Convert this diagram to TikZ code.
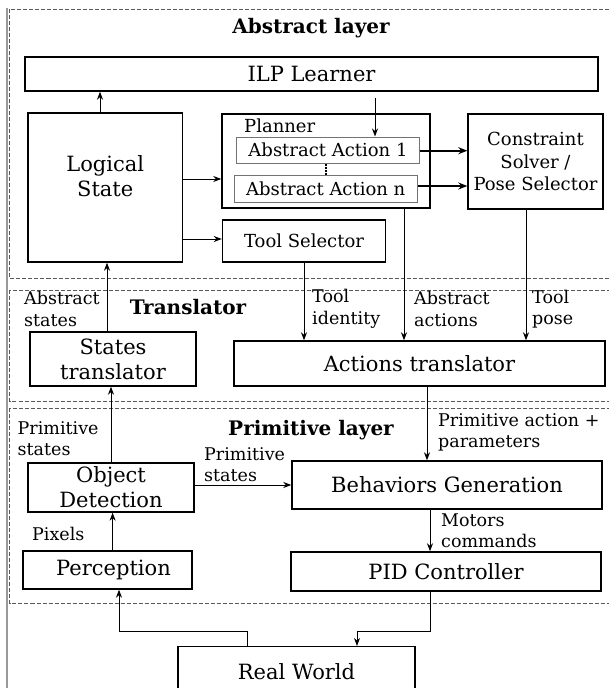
\documentclass[tikz,border=0pt]{standalone}
\usepackage{fontspec}
\setmainfont{DejaVu Serif}
\usetikzlibrary{arrows.meta,calc}
\begin{document}
\begin{tikzpicture}[x=1pt,y=-1pt,
  box/.style={draw=black,line width=1.4pt,inner sep=0pt,align=center,font=\fontsize{21}{25}\selectfont},
  sbox/.style={draw=black,line width=1.4pt,inner sep=0pt,align=center,font=\fontsize{18}{22.5}\selectfont},
  abox/.style={draw=black!55,line width=1pt,inner sep=0pt,align=center,font=\fontsize{18}{22}\selectfont},
  lbl/.style={inner sep=0pt,align=left,anchor=west,font=\fontsize{17.5}{21.5}\selectfont},
  ttl/.style={inner sep=0pt,font=\fontsize{20}{24}\selectfont\bfseries},
  arr/.style={line width=1pt,-{Stealth[length=8pt,width=6pt,inset=2.5pt]}},
  tarr/.style={line width=2.2pt,-{Stealth[length=9pt,width=7pt,inset=3pt]}},
  layer/.style={draw=black!65,line width=0.9pt,dash pattern=on 4pt off 2pt}]
\useasboundingbox (0,0) rectangle (609,688);
\clip (0,0) rectangle (609,688);
\fill[white] (0,0) rectangle (609,688);
% layers
\draw[black!40,line width=1.5pt] (7,8) -- (7,690);
\draw[layer] (9.5,9) rectangle (625,278);
\draw[layer] (9.5,290) rectangle (625,401);
\draw[layer] (9.5,408) rectangle (625,603);
\node[ttl] (tabs) at (311,28) {Abstract layer};
\node[ttl] (ttr) at (188,307) {Translator};
\node[ttl] (tpr) at (311,430) {Primitive layer};
% nodes
\node[box,minimum width=573pt,minimum height=34pt] (ilp) at (311.5,74) {ILP Learner};
\node[box,minimum width=154.5pt,minimum height=149pt] (ls) at (105.25,187.5) {};
\node[inner sep=0pt,align=center,font=\fontsize{21}{25}\selectfont] (lst) at (105.25,176) {Logical\\State};
\node[box,minimum width=208pt,minimum height=94pt] (pl) at (326,161) {};
\node[inner sep=0pt,anchor=west,font=\fontsize{18}{22}\selectfont] (plt) at (244,126) {Planner};
\node[abox,minimum width=183pt,minimum height=26pt] (aa1) at (328,150) {Abstract Action 1};
\node[abox,minimum width=183.5pt,minimum height=27pt] (aan) at (325.75,188.5) {Abstract Action n};
\node[sbox,minimum width=135pt,minimum height=95pt] (cs) at (535.5,161.5) {Constraint\\Solver /\\Pose Selector};
\node[sbox,minimum width=163pt,minimum height=42pt] (ts) at (304,241) {Tool Selector};
\node[box,minimum width=166pt,minimum height=54pt] (st) at (113,359) {States\\translator};
\node[box,minimum width=371pt,minimum height=45pt] (at) at (419.5,363.5) {Actions translator};
\node[box,minimum width=166pt,minimum height=49pt] (od) at (111,487.5) {Object\\Detection};
\node[box,minimum width=310pt,minimum height=48pt] (bg) at (447,485) {Behaviors Generation};
\node[box,minimum width=169pt,minimum height=38pt] (pc) at (107.5,570) {\hspace*{12pt}Perception};
\node[box,minimum width=310pt,minimum height=39pt] (pid) at (446,571.5) {PID Controller};
\node[box,minimum width=237pt,minimum height=54pt,anchor=north] (rw) at (296.5,646) {\raisebox{4pt}{Real World}};
% labels
\node[lbl] (l1) at (24,309) {Abstract\\states};
\node[lbl] (l2) at (312,309) {Tool\\identity};
\node[lbl] (l3) at (414,309) {Abstract\\actions};
\node[lbl] (l4) at (532,309) {Tool\\pose};
\node[lbl] (l5) at (438,432.5) {Primitive action +\\parameters};
\node[lbl] (l6) at (17.5,438.5) {Primitive\\states};
\node[lbl] (l7) at (204,464.5) {Primitive\\states};
\node[lbl] (l8) at (32,534) {Pixels};
\node[lbl] (l9) at (441,530.5) {Motors\\commands};
% helper coordinates
\coordinate (x100) at (100,0);
\coordinate (x375) at (375,0);
\coordinate (x404) at (404,0);
\coordinate (x526) at (526,0);
\coordinate (x107) at (107,0);
\coordinate (x427) at (427,0);
\coordinate (x430) at (430,0);
\coordinate (x113) at (112.6,0);
\coordinate (y179) at (0,179);
\coordinate (y239) at (0,239);
\coordinate (y151) at (0,150.7);
\coordinate (y186) at (0,186);
\coordinate (y632) at (0,631.7);
\coordinate (x247) at (247,0);
\coordinate (x119) at (119,0);
\coordinate (x357) at (357,0);
% connectors
\draw[arr] (ls.north -| x100) -- (ilp.south -| x100);
\draw[arr,shorten <=6pt] (ilp.south -| x375) -- (aa1.north -| x375);
\draw[arr] (ls.east |- y179) -- (pl.west |- y179);
\draw[arr] (ls.east |- y239) -- (ts.west |- y239);
\draw[tarr] (aa1.east |- y151) -- (cs.west |- y151);
\draw[tarr] (aan.east |- y186) -- (cs.west |- y186);
\draw[line width=2.2pt,dash pattern=on 2pt off 1.2pt] (aan.north |- aa1.south) -- (aan.north);
\draw[arr] (pl.south -| x404) -- (at.north -| x404);
\draw[arr] (cs.south -| x526) -- (at.north -| x526);
\draw[arr] (ts.south) -- (ts.south |- at.north);
\draw[arr] (st.north -| x107) -- (ls.south -| x107);
\draw[arr] (od.north) -- (od.north |- st.south);
\draw[arr] (at.south -| x427) -- (bg.north -| x427);
\draw[arr] (od.east |- bg.west) -- (bg.west);
\draw[arr] (pc.north -| x113) -- (od.south -| x113);
\draw[arr] (bg.south -| x430) -- (pid.north -| x430);
\draw[arr] (rw.north -| x247) -- (x247 |- y632) -- (x119 |- y632) -- (pc.south -| x119);
\draw[arr] (pid.south -| x430) -- (x430 |- y632) -- (x357 |- y632) -- (rw.north -| x357);
\end{tikzpicture}
\end{document}
